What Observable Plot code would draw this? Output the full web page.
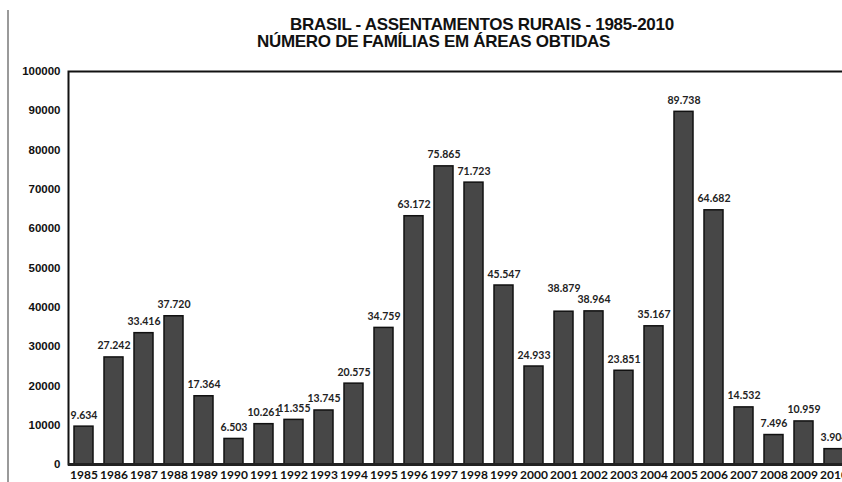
<!DOCTYPE html>
<html>
<head>
<meta charset="utf-8">
<script src="https://cdn.jsdelivr.net/npm/d3@7"></script>
<script src="https://cdn.jsdelivr.net/npm/@observablehq/plot@0.6"></script>
<style>
  html, body { margin: 0; padding: 0; background: #fff; overflow: hidden; width: 842px; height: 482px; }
  #wrap { position: relative; width: 842px; }
  #titles { position: relative; height: 50px; font-family: "Liberation Sans", Arial, sans-serif; font-weight: bold; font-size: 17px; letter-spacing: -0.3px; color: #111; }
  #titles div { position: absolute; white-space: nowrap; line-height: 19.5px; }
  #sideline { position: absolute; left: 7px; top: 10px; width: 2px; height: 472px; background: #9a9a9a; }
  #chart svg { display: block; max-width: none !important; }
</style>
</head>
<body>
<div id="wrap">
  <div id="sideline"></div>
  <div id="titles">
    <div style="left:290px; top:15px;">BRASIL - ASSENTAMENTOS RURAIS - 1985-2010</div>
    <div style="left:257px; top:32px;">NÚMERO DE FAMÍLIAS EM ÁREAS OBTIDAS</div>
  </div>
  <div id="chart"></div>
</div>
<script>
const years = ["1985","1986","1987","1988","1989","1990","1991","1992","1993","1994","1995","1996","1997","1998","1999","2000","2001","2002","2003","2004","2005","2006","2007","2008","2009","2010"];
const families = [9634, 27242, 33416, 37720, 17364, 6503, 10261, 11355, 13745, 20575, 34759, 63172, 75865, 71723, 45547, 24933, 38879, 38964, 23851, 35167, 89738, 64682, 14532, 7496, 10959, 3904];
const yTicks = [0, 10000, 20000, 30000, 40000, 50000, 60000, 70000, 80000, 90000, 100000];
const raisedLabelYears = ["2001"];

const data = years.map((y, i) => ({year: y, value: families[i]}));
const fmt = d3.formatLocale({thousands: ".", decimal: ",", grouping: [3], currency: ["", ""]}).format(",");
const labelStyle = {x: "year", y: "value", text: d => fmt(d.value), lineAnchor: "bottom", fontWeight: "bold", fontSize: 10.5, fill: "#222"};

const chart = Plot.plot({
  width: 850,
  height: 432,
  marginLeft: 68,
  marginRight: 1,
  marginTop: 21,
  marginBottom: 18,
  style: {fontFamily: "Lato, 'Open Sans', sans-serif", background: "#fff", color: "#111", maxWidth: "none"},
  x: {domain: years, paddingInner: 0.38, paddingOuter: 0.17, label: null},
  y: {domain: [0, 100000], label: null},
  marks: [
    Plot.barY(data, {x: "year", y: "value", fill: "#474747", stroke: "#111", strokeWidth: 1.5}),
    Plot.text(data.filter(d => !raisedLabelYears.includes(d.year)), {...labelStyle, dy: -8}),
    Plot.text(data.filter(d => raisedLabelYears.includes(d.year)), {...labelStyle, dy: -20}),
    Plot.frame({stroke: "#111", strokeWidth: 2}),
    Plot.ruleY([0], {stroke: "#222", strokeWidth: 3}),
    Plot.axisY({ticks: yTicks, tickSize: 0, tickPadding: 8, tickFormat: d => String(d), fontFamily: "'Liberation Sans', Arial, sans-serif", fontWeight: "bold", fontSize: 11.5, label: null}),
    Plot.axisX({tickSize: 0, tickPadding: 6, fontWeight: "bold", fontSize: 12, label: null})
  ]
});
document.getElementById("chart").appendChild(chart);
</script>
</body>
</html>
